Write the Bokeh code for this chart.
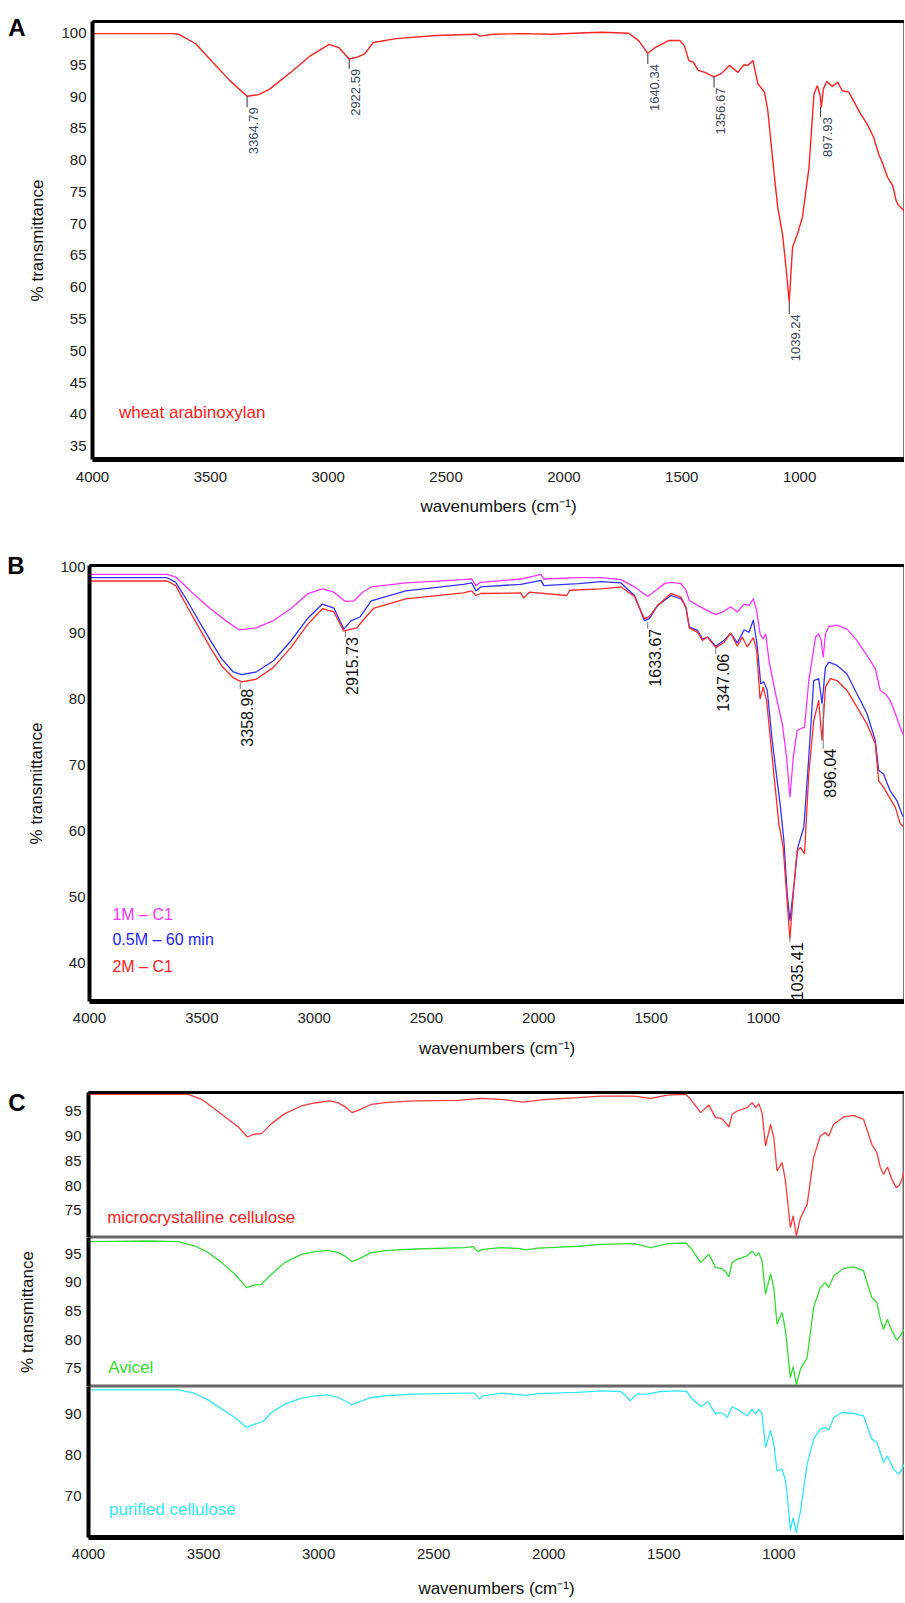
from bokeh.plotting import figure
from bokeh.models import Range1d, FixedTicker, LinearAxis, CustomJSTickFormatter
from bokeh.layouts import column
from bokeh.core.properties import value
from bokeh.embed import file_html
from bokeh.resources import INLINE
import math

# ---------------- data (wavenumber cm-1, % transmittance) ----------------
wheat_arabinoxylan = [(4000, 99.9), (3660, 99.9), (3635, 99.8), (3562, 98.3), (3490, 95.4), (3417, 92.5),
    (3344, 90.05), (3295, 90.3), (3247, 91.2), (3149, 94.1), (3076, 96.4), (2996, 98.2), (2955, 97.7),
    (2911, 95.9), (2877, 96.2), (2845, 96.7), (2809, 98.5), (2712, 99.1), (2542, 99.6), (2371, 99.8),
    (2357, 99.5), (2299, 99.8), (2177, 99.9), (2055, 99.8), (1934, 100.0), (1837, 100.1), (1725, 99.95),
    (1683, 98.8), (1644, 96.8), (1613, 97.7), (1556, 98.8), (1508, 98.8), (1489, 98.0), (1470, 95.65),
    (1451, 95.4), (1430, 94.1), (1402, 93.8), (1363, 93.1), (1332, 93.6), (1297, 94.9), (1262, 93.8),
    (1236, 95.0), (1220, 94.9), (1198, 95.65), (1177, 92.0), (1149, 90.7), (1135, 87.8), (1114, 80.0),
    (1093, 72.6), (1072, 68.2), (1058, 63.2), (1044, 57.7), (1030, 66.3), (1009, 68.4), (988, 71.0),
    (960, 78.9), (939, 90.4), (925, 91.7), (914, 90.4), (908, 88.3), (899, 91.2), (885, 92.35), (861, 91.6),
    (838, 92.25), (819, 90.9), (791, 90.7), (742, 87.3), (714, 85.7), (686, 83.6), (665, 81.0), (647, 79.4),
    (627, 77.3), (605, 76.0), (591, 73.7), (581, 72.9), (566, 72.4), (555, 72.0)]

b_1m_c1 = [(4000, 98.9), (3654, 98.9), (3616, 98.5), (3539, 96.0), (3462, 93.7), (3386, 91.7), (3334, 90.5),
    (3258, 90.8), (3181, 91.9), (3104, 93.7), (3027, 96.0), (2963, 96.7), (2912, 96.2), (2861, 94.8),
    (2822, 94.9), (2784, 96.2), (2746, 97.0), (2592, 97.6), (2336, 98.1), (2298, 98.2), (2280, 97.2),
    (2259, 97.7), (2080, 98.2), (1990, 98.9), (1978, 98.2), (1824, 98.4), (1722, 98.4), (1634, 98.1),
    (1574, 97.0), (1515, 95.55), (1478, 96.5), (1441, 97.5), (1412, 97.7), (1367, 97.5), (1345, 96.5),
    (1330, 94.95), (1293, 94.2), (1249, 93.4), (1212, 92.8), (1175, 93.3), (1146, 94.0), (1116, 93.2),
    (1086, 94.4), (1064, 94.2), (1045, 95.2), (1030, 93.4), (1015, 89.9), (1001, 89.1), (990, 89.9),
    (975, 85.8), (946, 80.8), (916, 76.2), (897, 71.2), (882, 65.1), (867, 71.2), (850, 75.2), (835, 75.5),
    (817, 75.7), (798, 82.8), (768, 89.4), (754, 89.9), (743, 88.9), (734, 86.3), (724, 89.9), (709, 91.0),
    (672, 91.2), (628, 90.6), (584, 88.9), (539, 86.6), (502, 84.6), (480, 81.3), (458, 80.8), (436, 79.8),
    (413, 77.8), (391, 75.7), (376, 74.5)]

b_05m_60min = [(4000, 98.4), (3654, 98.4), (3616, 97.7), (3565, 94.9), (3514, 91.9), (3462, 88.9), (3411, 86.1),
    (3360, 84.1), (3322, 83.7), (3258, 84.1), (3181, 85.8), (3104, 88.8), (3027, 92.3), (2963, 94.4),
    (2912, 93.8), (2868, 90.6), (2835, 91.9), (2797, 92.4), (2746, 94.9), (2592, 96.4), (2336, 97.4),
    (2298, 97.6), (2280, 96.4), (2259, 97.0), (2080, 97.4), (1990, 98.0), (1978, 97.2), (1824, 97.5),
    (1722, 97.8), (1634, 97.6), (1574, 95.7), (1530, 91.9), (1508, 92.2), (1471, 94.2), (1412, 95.7),
    (1367, 95.2), (1345, 93.9), (1330, 90.9), (1293, 90.4), (1271, 89.1), (1249, 89.4), (1212, 88.0),
    (1175, 88.9), (1146, 90.0), (1116, 88.5), (1086, 90.5), (1064, 90.1), (1045, 92.0), (1027, 87.9),
    (1012, 82.3), (998, 82.6), (983, 81.3), (961, 73.7), (924, 63.6), (909, 58.5), (894, 50.4), (882, 46.4),
    (867, 50.9), (847, 57.5), (820, 60.6), (798, 71.2), (776, 82.8), (754, 83.1), (739, 79.3), (724, 84.8),
    (709, 85.6), (672, 85.1), (628, 83.8), (584, 80.8), (539, 77.8), (502, 73.7), (487, 69.2), (465, 68.6),
    (436, 66.1), (406, 64.6), (384, 62.6), (376, 62.1)]

b_2m_c1 = [(4000, 97.9), (3654, 97.9), (3616, 97.2), (3565, 94.0), (3514, 90.9), (3462, 87.8), (3411, 85.0),
    (3360, 83.2), (3322, 82.6), (3258, 83.0), (3181, 84.8), (3104, 87.8), (3027, 91.4), (2963, 93.7),
    (2912, 93.2), (2868, 90.3), (2835, 90.6), (2810, 90.8), (2771, 92.4), (2733, 93.8), (2592, 95.2),
    (2336, 96.1), (2298, 96.4), (2280, 95.7), (2259, 96.0), (2080, 96.1), (2067, 95.3), (2042, 96.2),
    (1875, 95.7), (1862, 96.5), (1722, 96.7), (1634, 97.0), (1574, 95.55), (1530, 92.2), (1508, 92.5),
    (1471, 94.2), (1412, 96.0), (1367, 95.45), (1345, 93.9), (1330, 90.8), (1293, 90.1), (1271, 88.9),
    (1249, 89.4), (1212, 87.8), (1175, 88.6), (1146, 90.0), (1116, 88.0), (1094, 89.4), (1072, 87.9),
    (1045, 89.3), (1030, 87.4), (1015, 80.0), (1001, 81.8), (986, 79.8), (961, 71.2), (931, 61.0),
    (912, 57.5), (897, 50.5), (882, 43.6), (867, 50.5), (850, 57.0), (835, 57.5), (817, 56.5), (798, 68.7),
    (776, 76.7), (754, 79.8), (739, 73.7), (724, 81.8), (702, 83.1), (672, 82.8), (628, 81.3), (584, 78.8),
    (539, 76.2), (502, 73.2), (487, 67.6), (465, 66.6), (436, 64.9), (413, 63.6), (391, 61.1), (376, 60.6)]

microcrystalline = [(4000, 98.36), (3566, 98.36), (3508, 97.35), (3450, 95.34), (3393, 93.33), (3349, 91.79),
    (3309, 89.77), (3284, 90.31), (3248, 90.44), (3205, 92.46), (3147, 94.47), (3075, 96.01), (3017, 96.61),
    (2952, 97.02), (2916, 96.68), (2879, 95.67), (2855, 94.67), (2829, 95.14), (2771, 96.35), (2699, 96.75),
    (2583, 97.02), (2395, 97.15), (2294, 97.55), (2207, 97.35), (2111, 96.8), (2023, 97.3), (1873, 97.7),
    (1774, 98.0), (1629, 98.0), (1557, 97.55), (1485, 98.2), (1405, 98.36), (1383, 97.35), (1340, 94.67),
    (1304, 96.21), (1275, 93.66), (1250, 93.53), (1232, 92.66), (1217, 91.78), (1203, 94.33), (1181, 95.0),
    (1138, 95.7), (1116, 96.68), (1101, 95.67), (1087, 96.48), (1073, 94.67), (1058, 87.96), (1036, 92.32),
    (1022, 89.64), (1008, 82.93), (986, 84.61), (971, 80.92), (950, 71.53), (938, 73.88), (924, 69.85),
    (906, 73.54), (877, 76.22), (849, 85.61), (820, 89.97), (798, 90.64), (783, 89.97), (762, 92.32),
    (718, 93.8), (675, 94.13), (632, 93.33), (596, 88.3), (574, 86.62), (559, 83.6), (545, 82.26),
    (528, 83.74), (509, 81.25), (490, 79.58), (476, 80.11), (465, 81.25), (455, 82.93)]

avicel = [(4000, 97.1), (3739, 97.22), (3609, 97.1), (3537, 96.34), (3479, 95.18), (3421, 93.44), (3364, 91.4),
    (3313, 89.07), (3277, 89.54), (3248, 89.65), (3205, 91.4), (3147, 93.44), (3075, 94.89), (3017, 95.36),
    (2959, 95.59), (2916, 95.18), (2879, 94.43), (2855, 93.61), (2829, 94.02), (2771, 95.18), (2699, 95.59),
    (2583, 95.82), (2366, 96.05), (2330, 96.23), (2308, 95.36), (2287, 95.76), (2207, 96.05), (2123, 95.9),
    (2098, 95.66), (2048, 95.98), (1873, 96.3), (1774, 96.63), (1629, 96.75), (1557, 96.05), (1485, 96.75),
    (1405, 96.87), (1383, 96.05), (1340, 93.44), (1304, 94.89), (1275, 92.56), (1250, 92.45), (1232, 91.87),
    (1217, 90.93), (1203, 93.44), (1181, 94.02), (1138, 94.6), (1116, 95.47), (1101, 94.6), (1087, 95.18),
    (1073, 93.73), (1058, 87.91), (1036, 91.52), (1022, 89.07), (1008, 82.67), (986, 84.71), (971, 81.51),
    (950, 73.37), (938, 75.23), (924, 72.09), (906, 74.82), (877, 76.86), (849, 85.58), (820, 89.07),
    (798, 89.95), (783, 89.07), (762, 91.11), (718, 92.45), (675, 92.68), (632, 91.98), (596, 87.33),
    (574, 86.46), (559, 83.55), (545, 81.8), (528, 83.55), (509, 81.51), (487, 79.88), (473, 80.64), (455, 81.8)]

purified = [(4000, 95.95), (3609, 95.95), (3537, 95.05), (3479, 93.42), (3421, 91.22), (3364, 89.17),
    (3313, 86.73), (3277, 87.54), (3241, 88.19), (3205, 90.39), (3147, 92.44), (3075, 93.91), (3017, 94.48),
    (2959, 94.72), (2916, 94.07), (2879, 93.09), (2858, 92.28), (2829, 92.85), (2771, 94.07), (2699, 94.56),
    (2583, 94.89), (2366, 95.13), (2323, 95.13), (2301, 93.66), (2287, 94.48), (2207, 95.13), (2098, 94.6),
    (2048, 95.0), (1873, 95.3), (1774, 95.7), (1687, 95.54), (1665, 94.48), (1646, 93.26), (1615, 94.89),
    (1571, 94.89), (1513, 95.54), (1441, 95.7), (1401, 95.54), (1376, 93.66), (1337, 91.79), (1308, 93.09),
    (1275, 89.99), (1256, 90.4), (1239, 89.99), (1224, 89.17), (1203, 91.79), (1181, 91.22), (1138, 89.58),
    (1116, 91.22), (1101, 89.99), (1087, 91.22), (1073, 89.99), (1058, 81.83), (1036, 86.07), (1022, 82.65),
    (1008, 76.12), (986, 76.53), (971, 73.67), (957, 66.3), (950, 61.5), (938, 64.6), (924, 61.0), (906, 66.3),
    (877, 77.75), (849, 83.87), (820, 86.32), (798, 86.73), (783, 86.07), (762, 89.17), (726, 90.39),
    (675, 90.15), (632, 89.58), (596, 83.87), (574, 83.06), (545, 78.16), (528, 79.79), (502, 76.53),
    (480, 75.3), (465, 76.53), (455, 77.75)]

# peak annotations: label, wavenumber, %T at peak, %T where label begins
a_peak_labels = ["3364.79", "2922.59", "1640.34", "1356.67", "1039.24", "897.93"]
a_peak_w = [3344, 2911, 1644, 1363, 1044, 911]
a_peak_t = [90.05, 95.9, 96.8, 93.1, 57.7, 88.4]
a_label_t = [88.3, 94.35, 95.1, 91.4, 55.75, 86.75]

b_peak_labels = ["3358.98", "2915.73", "1633.67", "1347.06", "896.04", "1035.41"]
b_peak_w = [3329, 2861, 1515, 1212, 734, 882]
b_peak_t = [82.56, 90.3, 91.66, 87.77, 79.27, 43.63]
b_label_t = [81.55, 89.4, 90.65, 86.86, 72.45, 43.1]

x_ticks = [4000, 3500, 3000, 2500, 2000, 1500, 1000]
a_y_ticks = [35, 40, 45, 50, 55, 60, 65, 70, 75, 80, 85, 90, 95, 100]
b_y_ticks = [40, 50, 60, 70, 80, 90, 100]
c_top_ticks = [75, 80, 85, 90, 95]
c_mid_ticks = [75, 80, 85, 90, 95]
c_bot_ticks = [70, 80, 90]

b_legend = ["1M \u2013 C1", "0.5M \u2013 60 min", "2M \u2013 C1"]
b_legend_t = [47.3, 43.5, 39.5]

panel_letters = ["A", "B", "C"]

XLABEL = "wavenumbers (cm\u207b\u00b9)"
YLABEL = "% transmittance"
FONT = "Liberation Sans"


def xs(pts):
    return [p[0] for p in pts]


def ys(pts):
    return [p[1] for p in pts]


def no_ticks(ax):
    ax.major_tick_line_color = None
    ax.minor_tick_line_color = None
    ax.major_tick_out = 0
    ax.major_tick_in = 0
    ax.minor_tick_out = 0
    ax.minor_tick_in = 0


def make_fig(height, xr, yr, left, top, bottom, xaxis=True):
    p = figure(width=904, height=height, x_range=Range1d(*xr), y_range=Range1d(*yr),
               output_backend="svg", toolbar_location=None,
               x_axis_location="below" if xaxis else None,
               min_border=0, min_border_left=left, min_border_right=0,
               min_border_top=top, min_border_bottom=bottom)
    p.frame_align = False
    p.grid.visible = False
    p.outline_line_color = "#777777"
    p.outline_line_width = 1
    p.background_fill_color = "white"
    p.border_fill_color = "white"
    ax = p.left[0]
    ax.axis_line_width = 4
    ax.axis_line_color = "black"
    no_ticks(ax)
    ax.major_label_text_font = FONT
    ax.major_label_text_font_size = "15px"
    ax.major_label_text_color = "#222222"
    ax.axis_label_text_font = FONT
    ax.axis_label_text_font_size = "17px"
    ax.axis_label_text_font_style = "normal"
    ax.axis_label_text_color = "#111111"
    if xaxis:
        bx = p.below[0]
        bx.ticker = FixedTicker(ticks=x_ticks)
        bx.axis_line_width = 5
        bx.axis_line_color = "black"
        no_ticks(bx)
        bx.major_label_text_font = FONT
        bx.major_label_text_font_size = "15px"
        bx.major_label_text_color = "#222222"
        bx.axis_label = XLABEL
        bx.axis_label_text_font = FONT
        bx.axis_label_text_font_size = "17px"
        bx.axis_label_text_font_style = "normal"
        bx.axis_label_text_color = "#111111"
    return p


def add_top_border(p):
    top = LinearAxis(ticker=FixedTicker(ticks=[]), major_label_text_font_size="0px",
                     axis_line_width=3, axis_line_color="black", major_label_standoff=0)
    no_ticks(top)
    p.add_layout(top, "above")


def add_letter(p, letter, at, standoff):
    ax = LinearAxis(ticker=FixedTicker(ticks=[at]),
                    formatter=CustomJSTickFormatter(code="return '%s';" % letter),
                    axis_line_color=None,
                    major_label_text_font=FONT, major_label_text_font_size="24px",
                    major_label_text_font_style="bold", major_label_text_color="black",
                    major_label_standoff=standoff)
    no_ticks(ax)
    p.add_layout(ax, "left")


# ---------------- Panel A ----------------
pA = make_fig(530, (4000, 555), (32.9, 101.8), 92, 21, 71)
yA, xA = pA.left[0], pA.below[0]
add_top_border(pA)
yA.ticker = FixedTicker(ticks=a_y_ticks)
yA.axis_label = YLABEL
yA.major_label_standoff = 6
yA.axis_label_standoff = 11
xA.major_label_standoff = 12
xA.axis_label_standoff = 12
add_letter(pA, panel_letters[0], 100.9, 0)
pA.line(xs(wheat_arabinoxylan), ys(wheat_arabinoxylan), line_color="#ff2222", line_width=1.4)
pA.segment(x0=a_peak_w, y0=a_peak_t, x1=a_peak_w, y1=a_label_t, line_color="#333333", line_width=1)
pA.text(x=a_peak_w, y=a_label_t, text=a_peak_labels, angle=math.pi / 2, x_offset=2,
        text_align="right", text_baseline="top", text_font=value(FONT),
        text_font_size="13px", text_color="#3a4858")
pA.text(x=[3888], y=[40.3], text=["wheat arabinoxylan"], text_align="left", text_baseline="middle",
        text_font=value(FONT), text_font_size="17px", text_color="#ff1a1a")

# ---------------- Panel B ----------------
pB = make_fig(545, (4000, 372), (34.13, 100.25), 89, 35, 74)
yB, xB = pB.left[0], pB.below[0]
add_top_border(pB)
yB.ticker = FixedTicker(ticks=b_y_ticks)
yB.axis_label = YLABEL
yB.major_label_standoff = 4
yB.axis_label_standoff = 11
xB.major_label_standoff = 11
xB.axis_label_standoff = 13
add_letter(pB, panel_letters[1], 100.2, 0)
pB.line(xs(b_1m_c1), ys(b_1m_c1), line_color="#ff33ff", line_width=1.3)
pB.line(xs(b_05m_60min), ys(b_05m_60min), line_color="#3333ff", line_width=1.3)
pB.line(xs(b_2m_c1), ys(b_2m_c1), line_color="#ff2a2a", line_width=1.3)
pB.segment(x0=b_peak_w, y0=b_peak_t, x1=b_peak_w, y1=b_label_t, line_color="#777777", line_width=1)
pB.text(x=b_peak_w, y=b_label_t, text=b_peak_labels, angle=math.pi / 2, x_offset=1,
        text_align="right", text_baseline="top", text_font=value(FONT),
        text_font_size="16px", text_color="#111111")
pB.text(x=[3898] * 3, y=b_legend_t, text=b_legend, text_align="left", text_baseline="middle",
        text_font=value(FONT), text_font_size="16px",
        text_color=["#ff33ff", "#2222ff", "#ff2222"])

# ---------------- Panel C ----------------
c_xr = (4000, 454)
pC1 = make_fig(162, c_xr, (69.55, 98.72), 88, 17, 0, xaxis=False)
add_top_border(pC1)
pC1.left[0].ticker = FixedTicker(ticks=c_top_ticks)
pC1.left[0].major_label_standoff = 7
add_letter(pC1, panel_letters[2], 96.67, 36)
pC1.line(xs(microcrystalline), ys(microcrystalline), line_color="#ff3b3b", line_width=1.3)
pC1.text(x=[3919], y=[73.67], text=["microcrystalline cellulose"], text_align="left",
         text_baseline="middle", text_font=value(FONT), text_font_size="17px", text_color="#ff2020")

pC2 = make_fig(149, c_xr, (71.79, 97.83), 88, 0, 0, xaxis=False)
pC2.left[0].ticker = FixedTicker(ticks=c_mid_ticks)
pC2.left[0].major_label_standoff = 7
pC2.left[0].axis_label = YLABEL
pC2.left[0].axis_label_standoff = 25
pC2.line(xs(avicel), ys(avicel), line_color="#33dd33", line_width=1.3)
pC2.text(x=[3914], y=[75.1], text=["Avicel"], text_align="left",
         text_baseline="middle", text_font=value(FONT), text_font_size="17px", text_color="#33dd33")

pC3 = make_fig(217, c_xr, (59.79, 96.76), 88, 0, 66)
pC3.left[0].ticker = FixedTicker(ticks=c_bot_ticks)
pC3.left[0].major_label_standoff = 7
pC3.below[0].major_label_standoff = 11
pC3.below[0].axis_label_standoff = 17
pC3.line(xs(purified), ys(purified), line_color="#33e8f5", line_width=1.3)
pC3.text(x=[3911], y=[66.7], text=["purified cellulose"], text_align="left",
         text_baseline="middle", text_font=value(FONT), text_font_size="17px", text_color="#33e8f5")

for p in (pC1, pC2, pC3):
    p.outline_line_color = "#666666"
    p.outline_line_width = 2

layout = column(pA, pB, pC1, pC2, pC3, spacing=0)
open("out.html", "w").write(file_html(layout, INLINE))
